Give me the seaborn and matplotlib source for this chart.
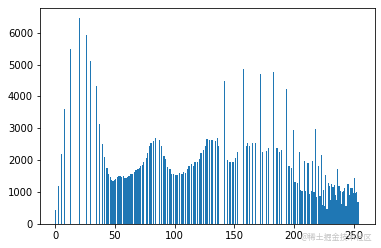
import matplotlib
matplotlib.use("Agg")
import matplotlib.pyplot as plt
import seaborn as sns
import numpy as np

# pixel value (bin) and number of pixels in that bin
values = [0, 2, 5, 7, 12, 20, 26, 29, 34, 37, 39, 41, 43, 44, 46, 47, 48, 49, 50,
          52, 53, 54, 55, 57, 58, 59, 60, 61, 62, 63, 64, 66, 67, 68, 69, 70, 71,
          73, 74, 76, 77, 79, 80, 82, 84, 87, 89, 91, 92, 94, 96, 97, 99, 101, 102,
          104, 106, 107, 109, 111, 112, 114, 116, 117, 119, 121, 122, 124, 126, 127,
          129, 131, 132, 134, 136, 137, 142, 144, 146, 147, 149, 151, 153, 158, 160,
          161, 163, 165, 168, 172, 174, 177, 179, 183, 186, 188, 190, 194, 196, 198,
          200, 201, 203, 205, 206, 207, 209, 210, 212, 213, 215, 216, 217, 218, 219,
          221, 222, 223,
          224, 225, 226, 227, 228, 229, 230, 231, 232, 233, 234, 235, 236, 237, 238,
          239, 240, 241, 242, 243, 244, 245, 246, 247, 248, 249, 250, 251, 252, 253, 254]

counts = [450, 1190, 2210, 3600, 5500, 6450, 5930, 5120, 4330, 3125, 2500, 2100, 1750,
          1570, 1470, 1390, 1345, 1365, 1405,
          1470, 1510, 1490, 1470, 1490, 1450, 1430, 1470, 1490, 1510, 1555, 1575, 1640,
          1700, 1680, 1720, 1765, 1805,
          1850, 1950, 2060, 2225, 2435, 2540, 2615, 2710, 2625, 2435, 2140, 2035, 1785,
          1720, 1575, 1555, 1535, 1535,
          1595, 1575, 1640, 1595, 1720, 1805, 1870, 1805, 1950, 1950, 2050, 2230, 2310,
          2430, 2670,
          2640, 2640, 2630, 2600, 2700, 2440, 4470, 2015, 1955, 1955, 1955, 2080, 2270,
          4870, 2440,
          2540, 2440, 2540, 2540, 4700, 2270, 2300, 2370, 4770, 2390, 2250, 2310, 4220,
          1830, 1770,
          2935, 1320, 1300, 2245, 1070, 1050, 1980, 1050, 1910, 950, 1050, 1980, 1010,
          2980, 840,
          1830, 870, 2160,
          600, 1070, 550, 1550, 470, 1280, 1180, 760, 1260, 1150, 1220, 900, 760, 1720,
          1200,
          1050, 630, 1010, 1050, 1130, 550, 1260, 1260, 900, 1130, 1130, 970, 1450, 970,
          1000, 690]

xticks = [0, 50, 100, 150, 200, 250]
yticks = [0, 1000, 2000, 3000, 4000, 5000, 6000]
watermark = "@稀土掘金技术社区"

fig = plt.figure(figsize=(381 / 72, 248 / 72), dpi=72)
ax = fig.add_axes([40 / 381, 24 / 248, 335 / 381, 216 / 248])

sns.histplot(x=values, weights=counts, bins=256, binrange=(0, 255),
             color="#1f77b4", alpha=1.0, linewidth=0, edgecolor="none", ax=ax)

ax.set_xticks(xticks)
ax.set_yticks(yticks)
ax.set_xlabel("")
ax.set_ylabel("")
ax.tick_params(labelsize=10)

fig.text(372 / 381, 1 - 237 / 248, watermark, ha="right", va="center",
         fontsize=8, color="#c4c4c4",
         family=["Noto Sans CJK SC", "DejaVu Sans"])

fig.savefig("out.png", dpi=72)
